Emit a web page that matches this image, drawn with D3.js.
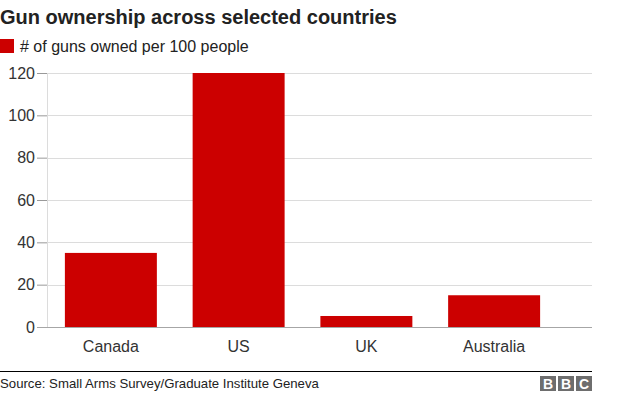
<!DOCTYPE html>
<html>
<head>
<meta charset="utf-8">
<script src="https://cdn.jsdelivr.net/npm/d3@7"></script>
<style>
  html, body { margin: 0; padding: 0; background: #fff; }
  text { font-family: "Liberation Sans", Arial, Helvetica, sans-serif; }
</style>
</head>
<body>
<svg id="chart" width="624" height="395"></svg>
<script>
const countries = ["Canada", "US", "UK", "Australia"];
const gunsPer100 = [35, 120, 5.2, 15];
const yTicks = [0, 20, 40, 60, 80, 100, 120];
const titleText = "Gun ownership across selected countries";
const legendText = "# of guns owned per 100 people";
const sourceText = "Source: Small Arms Survey/Graduate Institute Geneva";

const svg = d3.select("#chart");
const red = "#cc0000";
const textCol = "#222";

// Title
svg.append("text").attr("x", 0).attr("y", 24)
  .attr("font-size", 20).attr("font-weight", "bold").attr("fill", textCol)
  .text(titleText);

// Legend
svg.append("rect").attr("x", 0).attr("y", 39).attr("width", 14).attr("height", 14).attr("fill", red);
svg.append("text").attr("x", 20).attr("y", 52).attr("font-size", 16).attr("fill", textCol).text(legendText);

const y = d3.scaleLinear().domain([0, 120]).range([327, 73]);
const x = d3.scaleBand().domain(countries).range([47, 558]).paddingInner(0.28).paddingOuter(0.14);
const gridRight = 592;
const axisX = 47;

// Gridlines
svg.append("g").selectAll("line").data(yTicks.filter(d => d !== 0)).join("line")
  .attr("x1", axisX).attr("x2", gridRight)
  .attr("y1", d => Math.round(y(d)) + 0.5).attr("y2", d => Math.round(y(d)) + 0.5)
  .attr("stroke", "#dcdcdc").attr("stroke-width", 1);

// y axis line
svg.append("line").attr("x1", axisX + 0.5).attr("x2", axisX + 0.5)
  .attr("y1", y(120)).attr("y2", y(0)).attr("stroke", "#dcdcdc");

// Y axis with ticks
const yAxis = d3.axisLeft(y).tickValues(yTicks).tickSize(10).tickPadding(2).tickFormat(d3.format("d"));
const gy = svg.append("g").attr("transform", `translate(${axisX},0)`).call(yAxis);
gy.select(".domain").remove();
gy.selectAll(".tick line").attr("stroke", "#999");
gy.selectAll(".tick text").attr("font-size", 16).attr("fill", "#333")
  .attr("font-family", "Liberation Sans, Arial, sans-serif");

// Bars
svg.append("g").selectAll("rect").data(countries).join("rect")
  .attr("x", d => x(d)).attr("width", x.bandwidth())
  .attr("y", (d, i) => y(gunsPer100[i]))
  .attr("height", (d, i) => y(0) - y(gunsPer100[i]))
  .attr("fill", red);

// Baseline
svg.append("line").attr("x1", axisX - 10).attr("x2", gridRight)
  .attr("y1", Math.round(y(0)) + 0.5).attr("y2", Math.round(y(0)) + 0.5)
  .attr("stroke", "#a6a6a6").attr("stroke-width", 1);

// X axis labels
const xAxis = d3.axisBottom(x).tickSize(0).tickPadding(14);
const gx = svg.append("g").attr("transform", `translate(0,${y(0)})`).call(xAxis);
gx.select(".domain").remove();
gx.selectAll(".tick text").attr("font-size", 16).attr("fill", "#333")
  .attr("font-family", "Liberation Sans, Arial, sans-serif");

// Footer line
svg.append("line").attr("x1", 0).attr("x2", 592).attr("y1", 371.5).attr("y2", 371.5)
  .attr("stroke", "#000").attr("stroke-width", 1.2);

// Source
svg.append("text").attr("x", 0).attr("y", 388).attr("font-size", 13.2).attr("fill", textCol).text(sourceText);

// BBC logo
const letters = ["B", "B", "C"];
const logo = svg.append("g");
letters.forEach((l, i) => {
  const bx = 540 + i * 18;
  logo.append("rect").attr("x", bx).attr("y", 376).attr("width", 16).attr("height", 15).attr("fill", "#6e6e6e");
  logo.append("text").attr("x", bx + 8).attr("y", 388.5).attr("text-anchor", "middle")
    .attr("font-size", 14).attr("font-weight", "bold").attr("fill", "#fff").text(l);
});
</script>
</body>
</html>
